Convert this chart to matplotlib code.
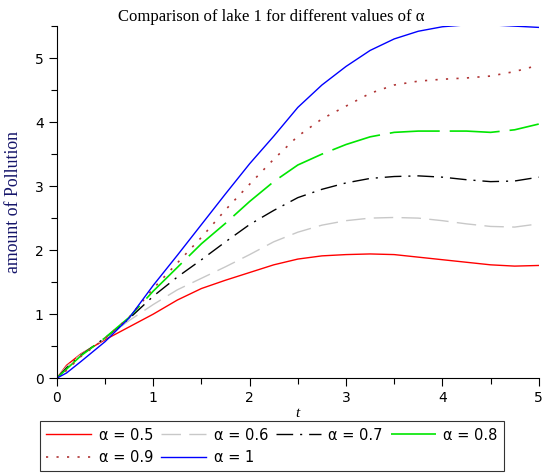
import matplotlib
matplotlib.use("Agg")
import matplotlib.pyplot as plt
from matplotlib.ticker import MultipleLocator

# time points
t = [0, 0.1, 0.25, 0.5, 0.75, 1, 1.25, 1.5, 1.75, 2, 2.25, 2.5, 2.75,
     3, 3.25, 3.5, 3.75, 4, 4.25, 4.5, 4.75, 5]

# amount of pollution for each alpha
a05 = [0, 0.2, 0.38, 0.6, 0.8, 1.0, 1.22, 1.4, 1.53, 1.65, 1.77, 1.86, 1.91,
       1.93, 1.94, 1.93, 1.89, 1.85, 1.81, 1.77, 1.75, 1.76]
a06 = [0, 0.18, 0.37, 0.62, 0.9, 1.15, 1.38, 1.56, 1.74, 1.93, 2.13, 2.28, 2.39,
       2.46, 2.5, 2.51, 2.5, 2.46, 2.41, 2.37, 2.36, 2.41]
a07 = [0, 0.16, 0.36, 0.63, 0.93, 1.28, 1.58, 1.85, 2.13, 2.4, 2.62, 2.82, 2.95,
       3.05, 3.12, 3.15, 3.16, 3.14, 3.1, 3.07, 3.08, 3.14]
a08 = [0, 0.14, 0.35, 0.63, 0.95, 1.36, 1.73, 2.1, 2.42, 2.76, 3.07, 3.33, 3.5,
       3.65, 3.77, 3.84, 3.86, 3.86, 3.86, 3.84, 3.88, 3.97]
a09 = [0, 0.12, 0.34, 0.62, 0.95, 1.4, 1.8, 2.2, 2.63, 3.03, 3.42, 3.78, 4.05,
       4.25, 4.45, 4.58, 4.64, 4.67, 4.69, 4.72, 4.79, 4.89]
a10 = [0, 0.08, 0.26, 0.57, 0.94, 1.45, 1.92, 2.4, 2.88, 3.35, 3.78, 4.23, 4.58,
       4.87, 5.12, 5.3, 5.42, 5.49, 5.52, 5.52, 5.5, 5.48]

labels = ["α = 0.5", "α = 0.6", "α = 0.7", "α = 0.8", "α = 0.9", "α = 1"]

fig = plt.figure(figsize=(5.42, 4.75), dpi=100)
ax = fig.add_axes([0.105, 0.204, 0.889, 0.741])

h1, = ax.plot(t, a05, color="#ff0000", lw=1.0, label=labels[0])
h2, = ax.plot(t, a06, color="#c8c8c8", lw=1.0, dashes=(14, 6), label=labels[1])
h3, = ax.plot(t, a07, color="black", lw=1.0, dashes=(12, 5, 1.5, 5), label=labels[2])
h4, = ax.plot(t, a08, color="#00e600", lw=1.2, dashes=(30, 6), label=labels[3])
h5, = ax.plot(t, a09, color="#b03535", lw=1.2, dashes=(1.3, 5), label=labels[4])
h6, = ax.plot(t, a10, color="#0000ff", lw=1.0, label=labels[5])

ax.set_xlim(0, 5)
ax.set_ylim(0, 5.5)
ax.set_xticks([0, 1, 2, 3, 4, 5])
ax.set_yticks([0, 1, 2, 3, 4, 5])
ax.xaxis.set_minor_locator(MultipleLocator(0.5))
ax.yaxis.set_minor_locator(MultipleLocator(0.5))
ax.tick_params(which="major", length=6, width=0.8, labelsize=10, colors="black")
ax.tick_params(which="minor", length=4, width=0.8)
ax.tick_params(axis="x", pad=3)
for s in ["top", "right"]:
    ax.spines[s].set_visible(False)

fig.text(0.5, 1 - 17 / 475, "Comparison of lake 1 for different values of α",
         fontfamily="Liberation Serif", fontsize=12, ha="center", va="center")
ax.set_xlabel("t", fontfamily="Liberation Serif", fontstyle="italic",
              fontsize=11, labelpad=2)
ax.set_ylabel("amount of Pollution", fontfamily="Liberation Serif",
              fontsize=12.8, color="#15156a", labelpad=9)

# row-major order for 4 columns
order = [h1, h5, h2, h6, h3, h4]
leg = fig.legend(order, [h.get_label() for h in order], ncol=4,
                 loc="upper center", bbox_to_anchor=(272 / 542, 1 - 421 / 475),
                 fontsize=10.5, frameon=True, fancybox=False,
                 edgecolor="black", handlelength=3.1, handletextpad=0.5,
                 columnspacing=0.55, borderpad=0.45, labelspacing=0.5,
                 borderaxespad=0)
leg.get_frame().set_linewidth(0.8)

fig.savefig("out.png", dpi=100)
